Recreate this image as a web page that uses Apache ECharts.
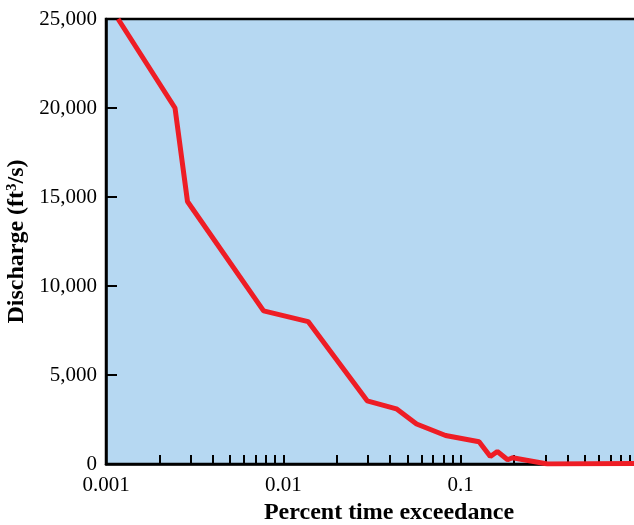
<!DOCTYPE html>
<html>
<head>
<meta charset="utf-8">
<script src="https://cdn.jsdelivr.net/npm/echarts@6/dist/echarts.min.js"></script>
<style>
html,body{margin:0;padding:0;background:#fff;}
#c{width:634px;height:525px;}
</style>
</head>
<body>
<div id="c"></div>
<script>
// Percent time exceedance (x, log scale) and discharge in ft3/s (y)
const exceedance = [0.00117, 0.00245, 0.00288, 0.00774, 0.0138, 0.0297, 0.0434, 0.0564, 0.0822, 0.127, 0.147, 0.161, 0.184, 0.196, 0.309, 1];
const discharge  = [25000, 20000, 14750, 8600, 8000, 3550, 3100, 2250, 1600, 1250, 420, 700, 240, 350, 0, 30];
const xLabelValues = [0.001, 0.01, 0.1];
const xTickValues = [0.002,0.003,0.004,0.005,0.006,0.007,0.008,0.009,0.01,
                     0.02,0.03,0.04,0.05,0.06,0.07,0.08,0.09,0.1,
                     0.2,0.3,0.4,0.5,0.6,0.7,0.8,0.9];
const yTicks = [0, 5000, 10000, 15000, 20000, 25000];

const serif = '"Liberation Serif", "DejaVu Serif", serif';
const chart = echarts.init(document.getElementById('c'), null, {renderer: 'canvas'});
chart.setOption({
  animation: false,
  grid: {
    left: 106, top: 19, bottom: 61, right: -4,
    outerBoundsMode: 'none', containLabel: false,
    show: true, backgroundColor: '#b6d8f2', borderColor: '#000', borderWidth: 2.5
  },
  xAxis: {
    type: 'log', logBase: 10, min: 0.001, max: 1,
    name: 'Percent time exceedance',
    nameLocation: 'middle', nameGap: 33,
    nameTextStyle: {fontFamily: serif, fontWeight: 'bold', fontSize: 24, color: '#000', padding: [0, 0, 0, 34]},
    axisLine: {show: true, lineStyle: {color: '#000', width: 2.5}},
    axisTick: {show: true, inside: true, length: 9, lineStyle: {color: '#000', width: 2}, customValues: xTickValues},
    minorTick: {show: false},
    splitLine: {show: false},
    axisLabel: {
      customValues: xLabelValues,
      fontFamily: serif, fontSize: 21, color: '#000', margin: 11,
      formatter: v => String(v)
    }
  },
  yAxis: {
    type: 'value', min: 0, max: 25000, interval: 5000,
    name: '{a|Discharge (ft}{s|3}{a|/s)}',
    nameLocation: 'middle', nameGap: 76, nameRotate: 90,
    nameTextStyle: {
      fontFamily: serif, fontWeight: 'bold', fontSize: 24, color: '#000',
      rich: {
        a: {fontFamily: serif, fontWeight: 'bold', fontSize: 24, color: '#000'},
        s: {fontFamily: serif, fontWeight: 'bold', fontSize: 15, color: '#000', verticalAlign: 'top', padding: [0, 0, 8, 0]}
      }
    },
    axisLine: {show: true, lineStyle: {color: '#000', width: 2.5}},
    axisTick: {show: true, inside: true, length: 11, lineStyle: {color: '#000', width: 2}},
    splitLine: {show: false},
    axisLabel: {
      fontFamily: serif, fontSize: 21, color: '#000', margin: 9,
      formatter: v => v.toLocaleString('en-US')
    }
  },
  series: [{
    type: 'line',
    data: exceedance.map((x, i) => [x, discharge[i]]),
    showSymbol: false,
    lineStyle: {color: '#ee1d25', width: 5},
    clip: true
  }]
});
</script>
</body>
</html>
